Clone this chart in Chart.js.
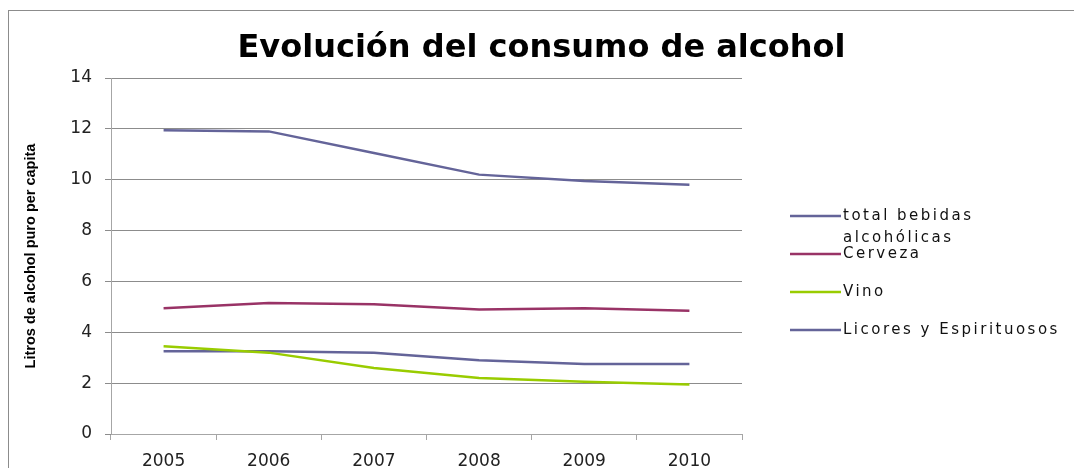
<!DOCTYPE html>
<html>
<head>
<meta charset="utf-8">
<script src="https://cdn.jsdelivr.net/npm/chart.js@4"></script>
<style>
  body { margin: 0; background: #fff; overflow: hidden; }
  #wrap {
    position: absolute; left: 8px; top: 10px;
    border-top: 1px solid #8c8c8c; border-left: 1px solid #8c8c8c;
  }
  canvas { display: block; }
</style>
</head>
<body>
<div id="wrap"><canvas id="alcohol-chart" width="1065" height="470"></canvas></div>
<script>
const years = ["2005", "2006", "2007", "2008", "2009", "2010"];
const totalBebidas = [11.95, 11.9, 11.05, 10.2, 9.95, 9.8];
const cerveza = [4.95, 5.15, 5.1, 4.9, 4.95, 4.85];
const vino = [3.45, 3.2, 2.6, 2.2, 2.05, 1.95];
const licores = [3.25, 3.25, 3.2, 2.9, 2.75, 2.75];
const yTicks = [0, 2, 4, 6, 8, 10, 12, 14];

// legend drawn by hand so it wraps like the original
const sideLegend = {
  id: "sideLegend",
  afterDraw(chart) {
    const ctx = chart.ctx;
    const rows = [205, 243, 281, 319];
    ctx.save();
    ctx.font = "15px 'DejaVu Sans'";
    ctx.letterSpacing = "2.5px";
    ctx.textBaseline = "middle";
    ctx.fillStyle = "#111";
    chart.data.datasets.forEach((ds, i) => {
      const y = rows[i];
      ctx.strokeStyle = ds.borderColor;
      ctx.lineWidth = 2.5;
      ctx.beginPath();
      ctx.moveTo(781, y);
      ctx.lineTo(832, y);
      ctx.stroke();
      const words = ds.label.split(" ");
      let line = "";
      let ly = y;
      words.forEach((w) => {
        const test = line ? line + " " + w : w;
        if (line && ctx.measureText(test).width > 225) {
          ctx.fillText(line, 834, ly);
          line = w;
          ly += 22;
        } else {
          line = test;
        }
      });
      ctx.fillText(line, 834, ly);
    });
    ctx.restore();
  }
};

new Chart(document.querySelector("#alcohol-chart"), {
  type: "line",
  data: {
    labels: years,
    datasets: [
      { label: "total bebidas alcohólicas", data: totalBebidas, borderColor: "#646499" },
      { label: "Cerveza", data: cerveza, borderColor: "#993366" },
      { label: "Vino", data: vino, borderColor: "#99cc00" },
      { label: "Licores y Espirituosos", data: licores, borderColor: "#646499" }
    ]
  },
  options: {
    responsive: false,
    animation: false,
    devicePixelRatio: 1,
    elements: {
      line: { borderWidth: 2.5, tension: 0 },
      point: { radius: 0 }
    },
    layout: { padding: { top: 0, right: 0, bottom: 10, left: 0 } },
    plugins: {
      legend: { display: false },
      tooltip: { enabled: false },
      title: {
        display: true,
        text: "Evolución del consumo de alcohol",
        color: "#000",
        font: { family: "'DejaVu Sans'", size: 32, weight: "bold" },
        padding: { top: 18, bottom: 10.6 }
      }
    },
    scales: {
      x: {
        offset: true,
        grid: { offset: true, drawOnChartArea: false, color: "#a6a6a6", tickLength: 6 },
        border: { color: "#a6a6a6" },
        ticks: { color: "#222", font: { family: "'DejaVu Sans'", size: 17 }, padding: 11 },
        afterFit(scale) { scale.height = 37; }
      },
      y: {
        min: 0,
        max: 14,
        afterBuildTicks(scale) { scale.ticks = yTicks.map((v) => ({ value: v })); },
        grid: { color: "#8c8c8c", tickLength: 6 },
        border: { color: "#a6a6a6" },
        ticks: { color: "#222", font: { family: "'DejaVu Sans'", size: 17 }, padding: 13 },
        title: {
          display: true,
          text: "Litros de alcohol puro per capita",
          color: "#000",
          font: { family: "'Liberation Sans Narrow', 'Liberation Sans'", size: 14.5, weight: "bold" },
          padding: { top: 13 }
        },
        afterFit(scale) { scale.width = 102; }
      },
      // empty right-hand box that keeps room for the legend
      side: {
        type: "linear",
        position: "right",
        display: true,
        grid: { drawOnChartArea: false, drawTicks: false },
        border: { display: false },
        ticks: { display: false },
        afterFit(scale) { scale.width = 332; }
      }
    }
  },
  plugins: [sideLegend]
});
</script>
</body>
</html>
